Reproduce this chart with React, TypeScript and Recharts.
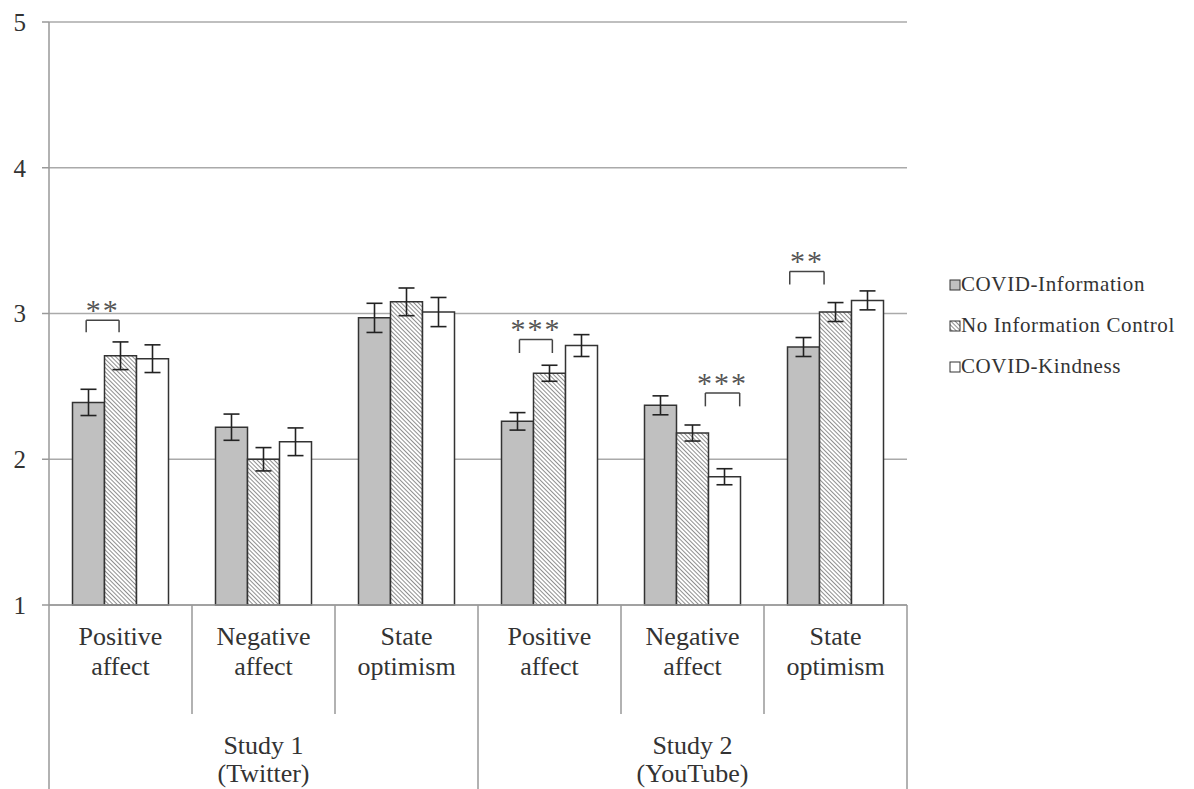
import React from "react"
import {
  BarChart,
  Bar,
  XAxis,
  YAxis,
  CartesianGrid,
  ErrorBar,
  Legend,
  ReferenceLine,
  ReferenceDot,
} from "recharts"

const categories = [
  "Positive affect",
  "Negative affect",
  "State optimism",
  "Positive affect",
  "Negative affect",
  "State optimism",
]
const studies = [
  { name: "Study 1", source: "(Twitter)", centerIndex: 1 },
  { name: "Study 2", source: "(YouTube)", centerIndex: 4 },
]

const covidInfo = [2.39, 2.22, 2.97, 2.26, 2.37, 2.77]
const covidInfoErr = [0.09, 0.09, 0.1, 0.06, 0.065, 0.065]
const noInfo = [2.71, 2.0, 3.08, 2.59, 2.18, 3.01]
const noInfoErr = [0.095, 0.08, 0.095, 0.055, 0.055, 0.065]
const kindness = [2.69, 2.12, 3.01, 2.78, 1.88, 3.09]
const kindnessErr = [0.095, 0.095, 0.1, 0.075, 0.055, 0.065]

const yTicks = [1, 2, 3, 4, 5]

// significance brackets, x in category units (0..6), y in scale units
const sigMarks = [
  { x1: 0.26, x2: 0.49, top: 2.954, leg: 2.872, stars: "**" },
  { x1: 3.29, x2: 3.52, top: 2.821, leg: 2.729, stars: "***" },
  { x1: 4.59, x2: 4.83, top: 2.455, leg: 2.363, stars: "***" },
  { x1: 5.18, x2: 5.42, top: 3.289, leg: 3.199, stars: "**" },
]

const series = [
  { key: "info", err: "infoErr", name: "COVID-Information", fill: "#c0c0c0" },
  { key: "none", err: "noneErr", name: "No Information Control", fill: "url(#hatch)" },
  { key: "kind", err: "kindErr", name: "COVID-Kindness", fill: "#ffffff" },
]

const data = categories.map((c, i) => ({
  category: c,
  slot: i + 0.5,
  info: covidInfo[i],
  infoErr: covidInfoErr[i],
  none: noInfo[i],
  noneErr: noInfoErr[i],
  kind: kindness[i],
  kindErr: kindnessErr[i],
}))

const FONT = "'Liberation Serif', 'Times New Roman', serif"
const LINE = "#999999"
const BOTTOM = 789

const CategoryTick = (props: any) => {
  const { x, y, payload, index } = props
  const half = payload && payload.offset ? payload.offset : 71.5
  const [first, ...rest] = String(payload.value).split(" ")
  const study = studies.find((s) => s.centerIndex === index)
  const full = index === 0 || index === 3
  return (
    <g>
      <line
        x1={x - half}
        x2={x - half}
        y1={y}
        y2={full ? BOTTOM : y + 109}
        stroke={LINE}
        strokeWidth={1.5}
      />
      {index === categories.length - 1 && (
        <line x1={x + half} x2={x + half} y1={y} y2={BOTTOM} stroke={LINE} strokeWidth={1.5} />
      )}
      <text x={x} y={y + 40} textAnchor="middle" fontFamily={FONT} fontSize={26} fill="#333">
        {first}
      </text>
      <text x={x} y={y + 70} textAnchor="middle" fontFamily={FONT} fontSize={26} fill="#333">
        {rest.join(" ")}
      </text>
      {study && (
        <>
          <text x={x} y={y + 149} textAnchor="middle" fontFamily={FONT} fontSize={26} fill="#333">
            {study.name}
          </text>
          <text x={x} y={y + 177} textAnchor="middle" fontFamily={FONT} fontSize={26} fill="#333">
            {study.source}
          </text>
        </>
      )}
    </g>
  )
}

const LegendContent = () => (
  <div style={{ fontFamily: FONT, fontSize: 21, color: "#333", letterSpacing: 0.6 }}>
    {series.map((s) => (
      <div key={s.key} style={{ display: "flex", alignItems: "center", height: 41 }}>
        <svg width={12} height={12} style={{ marginRight: 0 }}>
          <defs>
            <pattern id={`lg-${s.key}`} width={3} height={3} patternUnits="userSpaceOnUse" patternTransform="rotate(-45)">
              <rect width={3} height={3} fill="#fff" />
              <line x1={0} y1={0} x2={0} y2={3} stroke="#444" strokeWidth={1.2} />
            </pattern>
          </defs>
          <rect
            x={1}
            y={1}
            width={10}
            height={10}
            fill={s.key === "none" ? `url(#lg-${s.key})` : s.fill}
            stroke="#333"
            strokeWidth={1}
          />
        </svg>
        <span>{s.name}</span>
      </div>
    ))}
  </div>
)

export default function App() {
  return (
    <div style={{ position: "absolute", left: 0, top: 0, width: 1194, height: 789, background: "#fff" }}>
      <BarChart
        width={1194}
        height={789}
        data={data}
        margin={{ top: 22, right: 287, bottom: 0, left: 0 }}
        barCategoryGap={23.5}
        barGap={0}
      >
        <defs>
          <pattern id="hatch" width={3} height={3} patternUnits="userSpaceOnUse" patternTransform="rotate(-45)">
            <rect width={3} height={3} fill="#ffffff" />
            <line x1={0} y1={0} x2={0} y2={3} stroke="#444" strokeWidth={1.2} />
          </pattern>
        </defs>
        <CartesianGrid vertical={false} stroke="#aaaaaa" strokeWidth={1.5} />
        <XAxis
          dataKey="category"
          height={184}
          interval={0}
          tickLine={false}
          tickSize={0}
          tickMargin={0}
          axisLine={{ stroke: LINE, strokeWidth: 1.5 }}
          tick={<CategoryTick />}
        />
        <XAxis xAxisId="n" dataKey="slot" type="number" domain={[0, 6]} allowDataOverflow hide />
        <YAxis
          domain={[1, 5]}
          ticks={yTicks}
          width={49}
          tickSize={7}
          tickMargin={16}
          axisLine={{ stroke: LINE, strokeWidth: 1.5 }}
          tickLine={{ stroke: LINE, strokeWidth: 1.5 }}
          tick={{ fontFamily: FONT, fontSize: 25, fill: "#333" }}
        />
        {series.map((s) => (
          <Bar
            key={s.key}
            dataKey={s.key}
            name={s.name}
            fill={s.fill}
            stroke="#333"
            strokeWidth={1.5}
            isAnimationActive={false}
          >
            <ErrorBar dataKey={s.err} width={8} stroke="#222" strokeWidth={1.6} />
          </Bar>
        ))}
        {sigMarks.flatMap((m, i) => [
          <ReferenceLine
            key={`t${i}`}
            xAxisId="n"
            segment={[{ x: m.x1, y: m.top }, { x: m.x2, y: m.top }]}
            stroke="#444"
            strokeWidth={1.5}
          />,
          <ReferenceLine
            key={`l${i}`}
            xAxisId="n"
            segment={[{ x: m.x1, y: m.top }, { x: m.x1, y: m.leg }]}
            stroke="#444"
            strokeWidth={1.5}
          />,
          <ReferenceLine
            key={`r${i}`}
            xAxisId="n"
            segment={[{ x: m.x2, y: m.top }, { x: m.x2, y: m.leg }]}
            stroke="#444"
            strokeWidth={1.5}
          />,
          <ReferenceDot
            key={`s${i}`}
            xAxisId="n"
            x={(m.x1 + m.x2) / 2}
            y={m.top + 0.075}
            r={0}
            fill="none"
            stroke="none"
            label={{
              value: m.stars,
              position: "center",
              fill: "#555",
              fontSize: 30,
              fontFamily: FONT,
              letterSpacing: 2,
            }}
          />,
        ])}
        <Legend
          layout="vertical"
          align="center"
          verticalAlign="middle"
          wrapperStyle={{ left: 949, top: 264, width: 245 }}
          content={<LegendContent />}
        />
      </BarChart>
    </div>
  )
}
